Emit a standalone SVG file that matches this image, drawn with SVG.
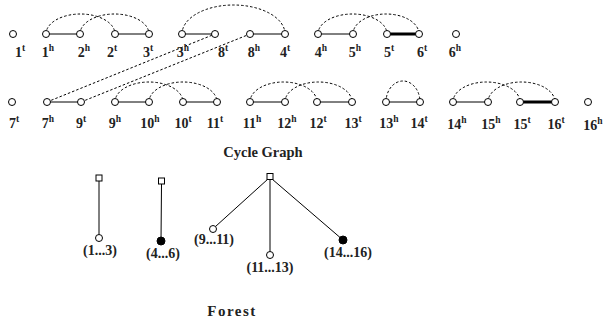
<svg xmlns="http://www.w3.org/2000/svg" width="604" height="325" viewBox="0 0 604 325">
<style>
.n{fill:#fff;stroke:#000;stroke-width:1}
.f{fill:#000;stroke:#000;stroke-width:1}
.e{stroke:#000;stroke-width:1;fill:none}
.t{stroke:#000;stroke-width:3;fill:none}
.d{stroke:#000;stroke-width:1;fill:none;stroke-dasharray:2.5,2}
text{font-family:"Liberation Serif","Times New Roman",serif;font-weight:bold;fill:#222}
.l{font-size:14px;text-anchor:middle}
.s{font-size:9.5px}
.c{font-size:15px;text-anchor:middle}
</style>
<rect width="604" height="325" fill="#fff"/>
<g id="connectors">
<line class="e" x1="46" y1="34" x2="80" y2="34"/>
<line class="e" x1="115" y1="34" x2="149" y2="34"/>
<line class="e" x1="182" y1="34" x2="215" y2="34"/>
<line class="e" x1="250" y1="34" x2="285" y2="34"/>
<line class="e" x1="318" y1="34" x2="353" y2="34"/>
<line class="t" x1="387" y1="34" x2="419" y2="34"/>
<line class="e" x1="47" y1="102" x2="81" y2="102"/>
<line class="e" x1="115" y1="102" x2="149" y2="102"/>
<line class="e" x1="183" y1="102" x2="217" y2="102"/>
<line class="e" x1="250" y1="102" x2="285" y2="102"/>
<line class="e" x1="317" y1="102" x2="352" y2="102"/>
<line class="e" x1="386" y1="102" x2="420" y2="102"/>
<line class="e" x1="453" y1="102" x2="488" y2="102"/>
<line class="t" x1="520" y1="102" x2="555" y2="102"/>
<path class="d" d="M46 34 A34.5 20 0 0 1 115 34"/>
<path class="d" d="M80 34 A34.5 20 0 0 1 149 34"/>
<path class="d" d="M182 34 A51.5 29 0 0 1 285 34"/>
<path class="d" d="M318 34 A34.5 20 0 0 1 387 34"/>
<path class="d" d="M353 34 A33 20 0 0 1 419 34"/>
<line class="d" x1="47" y1="102" x2="215" y2="34"/>
<line class="d" x1="81" y1="102" x2="250" y2="34"/>
<path class="d" d="M115 102 A34 20 0 0 1 183 102"/>
<path class="d" d="M149 102 A34 20 0 0 1 217 102"/>
<path class="d" d="M250 102 A33.5 20 0 0 1 317 102"/>
<path class="d" d="M285 102 A33.5 20 0 0 1 352 102"/>
<path class="d" d="M386 102 A17 21 0 0 1 420 102"/>
<path class="d" d="M453 102 A33.5 20 0 0 1 520 102"/>
<path class="d" d="M488 102 A33.5 20 0 0 1 555 102"/>
<line class="e" x1="99" y1="181" x2="99" y2="234.5"/>
<line class="e" x1="161.5" y1="184" x2="161" y2="241"/>
<line class="e" x1="268" y1="179" x2="215.5" y2="226.5"/>
<line class="e" x1="270" y1="179.5" x2="270" y2="251.5"/>
<line class="e" x1="272" y1="179" x2="343" y2="240"/>
</g>
<g id="row1">
<g id="n1t"><circle class="n" cx="13" cy="34" r="3.5"/><text class="l" x="20" y="57">1<tspan class="s" dy="-6">t</tspan></text></g>
<g id="n1h"><circle class="n" cx="46" cy="34" r="3.5"/><text class="l" x="48" y="57">1<tspan class="s" dy="-6">h</tspan></text></g>
<g id="n2h"><circle class="n" cx="80" cy="34" r="3.5"/><text class="l" x="84" y="57">2<tspan class="s" dy="-6">h</tspan></text></g>
<g id="n2t"><circle class="n" cx="115" cy="34" r="3.5"/><text class="l" x="112" y="57">2<tspan class="s" dy="-6">t</tspan></text></g>
<g id="n3t"><circle class="n" cx="149" cy="34" r="3.5"/><text class="l" x="148" y="57">3<tspan class="s" dy="-6">t</tspan></text></g>
<g id="n3h"><circle class="n" cx="182" cy="34" r="3.5"/><text class="l" x="183" y="57">3<tspan class="s" dy="-6">h</tspan></text></g>
<g id="n8t"><circle class="n" cx="215" cy="34" r="3.5"/><text class="l" x="223" y="57">8<tspan class="s" dy="-6">t</tspan></text></g>
<g id="n8h"><circle class="n" cx="250" cy="34" r="3.5"/><text class="l" x="254" y="57">8<tspan class="s" dy="-6">h</tspan></text></g>
<g id="n4t"><circle class="n" cx="285" cy="34" r="3.5"/><text class="l" x="285" y="57">4<tspan class="s" dy="-6">t</tspan></text></g>
<g id="n4h"><circle class="n" cx="318" cy="34" r="3.5"/><text class="l" x="321" y="57">4<tspan class="s" dy="-6">h</tspan></text></g>
<g id="n5h"><circle class="n" cx="353" cy="34" r="3.5"/><text class="l" x="355" y="57">5<tspan class="s" dy="-6">h</tspan></text></g>
<g id="n5t"><circle class="n" cx="387" cy="34" r="3.5"/><text class="l" x="389" y="57">5<tspan class="s" dy="-6">t</tspan></text></g>
<g id="n6t"><circle class="n" cx="419" cy="34" r="3.5"/><text class="l" x="422" y="57">6<tspan class="s" dy="-6">t</tspan></text></g>
<g id="n6h"><circle class="n" cx="456" cy="34" r="3.5"/><text class="l" x="455" y="57">6<tspan class="s" dy="-6">h</tspan></text></g>
</g>
<g id="row2">
<g id="n7t"><circle class="n" cx="12" cy="102" r="3.5"/><text class="l" x="14" y="128">7<tspan class="s" dy="-6">t</tspan></text></g>
<g id="n7h"><circle class="n" cx="47" cy="102" r="3.5"/><text class="l" x="48" y="128">7<tspan class="s" dy="-6">h</tspan></text></g>
<g id="n9t"><circle class="n" cx="81" cy="102" r="3.5"/><text class="l" x="81" y="128">9<tspan class="s" dy="-6">t</tspan></text></g>
<g id="n9h"><circle class="n" cx="115" cy="102" r="3.5"/><text class="l" x="115" y="128">9<tspan class="s" dy="-6">h</tspan></text></g>
<g id="n10h"><circle class="n" cx="149" cy="102" r="3.5"/><text class="l" x="150" y="128">10<tspan class="s" dy="-6">h</tspan></text></g>
<g id="n10t"><circle class="n" cx="183" cy="102" r="3.5"/><text class="l" x="183" y="128">10<tspan class="s" dy="-6">t</tspan></text></g>
<g id="n11t"><circle class="n" cx="217" cy="102" r="3.5"/><text class="l" x="215" y="128">11<tspan class="s" dy="-6">t</tspan></text></g>
<g id="n11h"><circle class="n" cx="250" cy="102" r="3.5"/><text class="l" x="252" y="128">11<tspan class="s" dy="-6">h</tspan></text></g>
<g id="n12h"><circle class="n" cx="285" cy="102" r="3.5"/><text class="l" x="287" y="128">12<tspan class="s" dy="-6">h</tspan></text></g>
<g id="n12t"><circle class="n" cx="317" cy="102" r="3.5"/><text class="l" x="318" y="128">12<tspan class="s" dy="-6">t</tspan></text></g>
<g id="n13t"><circle class="n" cx="352" cy="102" r="3.5"/><text class="l" x="353" y="128">13<tspan class="s" dy="-6">t</tspan></text></g>
<g id="n13h"><circle class="n" cx="386" cy="102" r="3.5"/><text class="l" x="389" y="128">13<tspan class="s" dy="-6">h</tspan></text></g>
<g id="n14t"><circle class="n" cx="420" cy="102" r="3.5"/><text class="l" x="419" y="128">14<tspan class="s" dy="-6">t</tspan></text></g>
<g id="n14h"><circle class="n" cx="453" cy="102" r="3.5"/><text class="l" x="457" y="129">14<tspan class="s" dy="-6">h</tspan></text></g>
<g id="n15h"><circle class="n" cx="488" cy="102" r="3.5"/><text class="l" x="491" y="129">15<tspan class="s" dy="-6">h</tspan></text></g>
<g id="n15t"><circle class="n" cx="520" cy="102" r="3.5"/><text class="l" x="522" y="129">15<tspan class="s" dy="-6">t</tspan></text></g>
<g id="n16t"><circle class="n" cx="555" cy="102" r="3.5"/><text class="l" x="556" y="129">16<tspan class="s" dy="-6">t</tspan></text></g>
<g id="n16h"><circle class="n" cx="588" cy="102" r="3.5"/><text class="l" x="593" y="130">16<tspan class="s" dy="-6">h</tspan></text></g>
</g>
<text id="title1" class="c" x="263" y="157" style="font-size:14.5px">Cycle Graph</text>
<g id="forest">
<g id="r1"><rect class="n" x="96" y="175" width="6" height="6"/></g>
<g id="c1"><circle class="n" cx="99" cy="238" r="3.5"/><text class="l" x="100" y="255">(1...3)</text></g>
<g id="r2"><rect class="n" x="158.5" y="178" width="6" height="6"/></g>
<g id="c2"><circle class="f" cx="161" cy="241" r="4"/><text class="l" x="163" y="258">(4...6)</text></g>
<g id="r3"><rect class="n" x="267" y="173.5" width="6" height="6"/></g>
<g id="c3"><circle class="n" cx="213" cy="229" r="3.5"/><text class="l" x="214" y="244">(9...11)</text></g>
<g id="c4"><circle class="n" cx="270" cy="255" r="3.5"/><text class="l" x="270" y="272">(11...13)</text></g>
<g id="c5"><circle class="f" cx="343" cy="240" r="4"/><text class="l" x="348" y="257">(14...16)</text></g>
</g>
<text id="title2" class="c" x="232" y="316" style="letter-spacing:1.5px">Forest</text>
</svg>
